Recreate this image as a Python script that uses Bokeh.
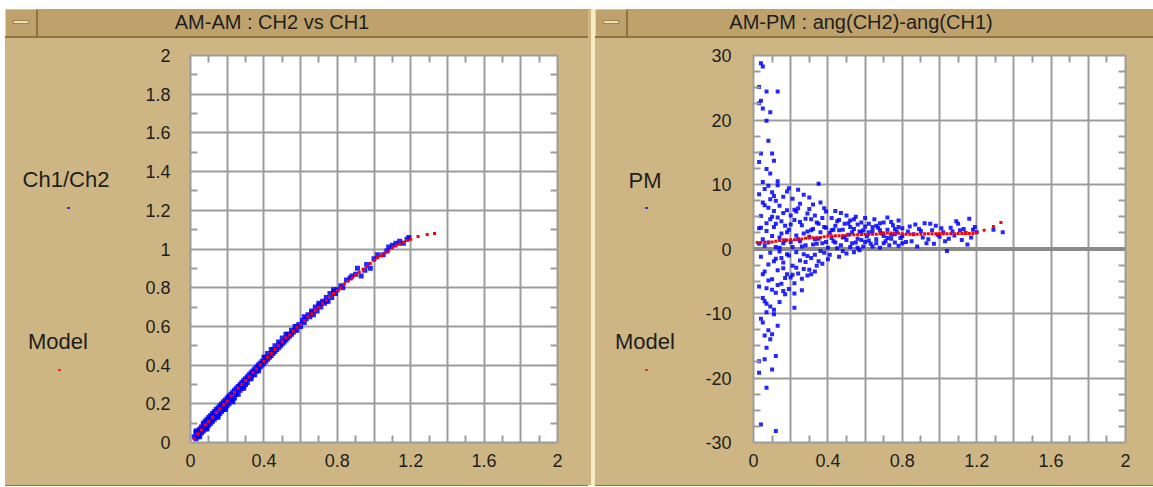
from bokeh.plotting import figure
from bokeh.models import Range1d, LinearAxis, FixedTicker, Grid, Span, Div, CustomJSTickFormatter
from bokeh.layouts import row, column
from bokeh.embed import file_html
from bokeh.resources import INLINE

# ---------------- data ----------------
x_ticks_lab = [0, 0.4, 0.8, 1.2, 1.6, 2]
x_grid = [0, 0.2, 0.4, 0.6, 0.8, 1.0, 1.2, 1.4, 1.6, 1.8, 2.0]
x_minor = [0.1, 0.3, 0.5, 0.7, 0.9, 1.1, 1.3, 1.5, 1.7, 1.9]
am_y_ticks = [0, 0.2, 0.4, 0.6, 0.8, 1, 1.2, 1.4, 1.6, 1.8, 2]
am_y_minor = [0.1, 0.3, 0.5, 0.7, 0.9, 1.1, 1.3, 1.5, 1.7, 1.9]
pm_y_ticks = [-30, -20, -10, 0, 10, 20, 30]
pm_y_minor = [-27.5, -25, -22.5, -17.5, -15, -12.5, -7.5, -5, -2.5,
              2.5, 5, 7.5, 12.5, 15, 17.5, 22.5, 25, 27.5]

# AM-AM measured points (Ch1/Ch2)
am_x_low = [0.02, 0.03, 0.03, 0.04, 0.04, 0.05, 0.05, 0.06, 0.06, 0.07, 0.07, 0.08, 0.08, 0.09, 0.09,
            0.10, 0.10, 0.11, 0.11, 0.12, 0.12, 0.13, 0.13, 0.14, 0.14, 0.15, 0.15, 0.16, 0.16, 0.17,
            0.17, 0.18, 0.18, 0.19, 0.19, 0.20, 0.20, 0.21, 0.21, 0.22, 0.22, 0.23, 0.23, 0.24, 0.24,
            0.25, 0.25, 0.26, 0.26, 0.27, 0.27, 0.28, 0.28, 0.29, 0.29, 0.30, 0.30]
am_y_low = [0.03, 0.02, 0.05, 0.03, 0.06, 0.04, 0.07, 0.05, 0.08, 0.06, 0.09, 0.07, 0.11, 0.08, 0.12,
            0.09, 0.13, 0.10, 0.14, 0.11, 0.15, 0.12, 0.16, 0.13, 0.17, 0.14, 0.18, 0.15, 0.19, 0.16,
            0.20, 0.17, 0.21, 0.18, 0.22, 0.19, 0.23, 0.20, 0.24, 0.22, 0.25, 0.22, 0.26, 0.23, 0.27,
            0.25, 0.28, 0.25, 0.29, 0.27, 0.30, 0.28, 0.31, 0.29, 0.32, 0.30, 0.33]
am_x_mid = [0.31, 0.31, 0.32, 0.32, 0.33, 0.33, 0.34, 0.34, 0.35, 0.35, 0.36, 0.36, 0.37, 0.37, 0.38,
            0.38, 0.39, 0.39, 0.40, 0.40, 0.41, 0.42, 0.42, 0.43, 0.44, 0.44, 0.45, 0.46, 0.46, 0.47,
            0.48, 0.48, 0.49, 0.50, 0.50, 0.51, 0.52, 0.52, 0.53, 0.54, 0.55, 0.55, 0.56, 0.57, 0.58,
            0.58, 0.59, 0.60, 0.61, 0.62, 0.63, 0.64, 0.65, 0.66, 0.67, 0.68, 0.69, 0.70, 0.71, 0.72,
            0.73, 0.74, 0.75, 0.76, 0.77, 0.78, 0.79, 0.80]
am_y_mid = [0.31, 0.34, 0.33, 0.35, 0.33, 0.36, 0.35, 0.37, 0.35, 0.38, 0.37, 0.39, 0.38, 0.40, 0.39,
            0.41, 0.40, 0.42, 0.41, 0.44, 0.42, 0.43, 0.46, 0.44, 0.45, 0.48, 0.46, 0.47, 0.50, 0.48,
            0.49, 0.52, 0.50, 0.51, 0.54, 0.52, 0.53, 0.56, 0.54, 0.55, 0.56, 0.58, 0.57, 0.58, 0.60,
            0.58, 0.61, 0.60, 0.63, 0.62, 0.64, 0.66, 0.65, 0.68, 0.66, 0.70, 0.68, 0.71, 0.70, 0.73,
            0.72, 0.75, 0.73, 0.77, 0.75, 0.78, 0.77, 0.79]
am_x_high = [0.82, 0.83, 0.85, 0.87, 0.88, 0.90, 0.91, 0.93, 0.95, 0.96, 0.98, 1.00, 1.02, 1.05, 1.07,
             1.08, 1.10, 1.12, 1.14, 1.16, 1.18, 1.19]
am_y_high = [0.81, 0.80, 0.84, 0.85, 0.86, 0.87, 0.90, 0.86, 0.89, 0.92, 0.90, 0.95, 0.97, 0.97, 0.99,
             1.01, 1.02, 1.03, 1.04, 1.03, 1.05, 1.06]
am_x_fuzz = [0.03, 0.05, 0.07, 0.09, 0.11, 0.13, 0.15, 0.17, 0.19, 0.21, 0.23, 0.25, 0.27, 0.29,
             0.33, 0.37, 0.41, 0.45, 0.49, 0.53, 0.57, 0.62, 0.66, 0.70, 0.74, 0.78]
am_y_fuzz = [0.06, 0.03, 0.10, 0.07, 0.12, 0.15, 0.13, 0.19, 0.17, 0.23, 0.21, 0.26, 0.29, 0.28,
             0.34, 0.37, 0.44, 0.48, 0.51, 0.56, 0.60, 0.65, 0.67, 0.72, 0.73, 0.79]

# models (shared x)
model_x = [0.02, 0.04, 0.06, 0.08, 0.10, 0.12, 0.14, 0.16, 0.18, 0.20,
           0.22, 0.24, 0.26, 0.28, 0.30, 0.32, 0.34, 0.36, 0.38, 0.40,
           0.42, 0.44, 0.46, 0.48, 0.50, 0.52, 0.54, 0.56, 0.58, 0.60,
           0.62, 0.64, 0.66, 0.68, 0.70, 0.72, 0.74, 0.76, 0.78, 0.80,
           0.82, 0.84, 0.86, 0.88, 0.90, 0.92, 0.94, 0.96, 0.98, 1.00,
           1.02, 1.04, 1.06, 1.08, 1.10, 1.12, 1.14, 1.16, 1.18, 1.20,
           1.24, 1.29, 1.33]
am_model_y = [0.02, 0.045, 0.065, 0.09, 0.11, 0.13, 0.155, 0.175, 0.195, 0.215,
              0.24, 0.26, 0.28, 0.30, 0.32, 0.34, 0.36, 0.38, 0.40, 0.42,
              0.44, 0.46, 0.48, 0.50, 0.52, 0.54, 0.555, 0.575, 0.595, 0.61,
              0.63, 0.65, 0.665, 0.685, 0.70, 0.72, 0.735, 0.755, 0.77, 0.785,
              0.80, 0.82, 0.835, 0.85, 0.865, 0.88, 0.895, 0.91, 0.925, 0.94,
              0.955, 0.965, 0.98, 0.99, 1.005, 1.015, 1.025, 1.035, 1.045, 1.05,
              1.065, 1.075, 1.08]
pm_model_y = [1.0, 1.0, 1.05, 1.05, 1.1, 1.2, 1.3, 1.4, 1.4, 1.45,
              1.45, 1.5, 1.55, 1.65, 1.7, 1.75, 1.75, 1.8, 1.9, 2.0,
              2.0, 2.05, 2.05, 2.1, 2.15, 2.2, 2.2, 2.2, 2.25, 2.25,
              2.25, 2.3, 2.3, 2.4, 2.5, 2.5, 2.5, 2.5, 2.45, 2.35,
              2.3, 2.3, 2.3, 2.3, 2.3, 2.35, 2.35, 2.35, 2.35, 2.35,
              2.35, 2.35, 2.35, 2.35, 2.4, 2.4, 2.4, 2.4, 2.4, 2.6,
              2.9, 3.5, 4.1]

# AM-PM measured points (PM)
pm_x_fan = [0.03, 0.04, 0.05, 0.03, 0.07, 0.13, 0.04, 0.05, 0.09, 0.07, 0.08, 0.04, 0.10, 0.11, 0.03,
            0.07, 0.09,
            0.05, 0.08, 0.13, 0.07, 0.11, 0.04, 0.06, 0.08, 0.05, 0.10, 0.03, 0.06, 0.10, 0.07,
            0.04, 0.12, 0.12, 0.07, 0.11, 0.22, 0.09, 0.03, 0.07, 0.13]
pm_y_fan = [25.1, 28.8, 28.3, 22.6, 24.4, 24.4, 23.0, 21.8, 21.2, 19.9, 16.8, 14.8, 14.8, 13.7, 13.5,
            12.4, 11.7,
            10.4, 9.8, 10.5, -9.8, -9.4, -10.8, -13.4, -12.6, -11.4, -13.2, -17.4, -17.1, -18.7, -21.5,
            -27.2, -28.2, -16.6, -15.3, -10.1, -9.1, -14.0, -19.2, -8.5, -11.9]
pm_x_core = [0.03, 0.05, 0.04, 0.06, 0.08, 0.03, 0.05, 0.07, 0.09, 0.10, 0.12, 0.11, 0.13, 0.14, 0.15,
             0.16, 0.17, 0.18, 0.19, 0.20,
             0.04, 0.06, 0.03, 0.05, 0.07, 0.08, 0.09, 0.10, 0.11, 0.12, 0.13, 0.14, 0.15, 0.16, 0.17,
             0.18, 0.19, 0.20,
             0.06, 0.08, 0.10, 0.12, 0.14, 0.16, 0.18, 0.11, 0.13, 0.15, 0.17, 0.19, 0.09, 0.12, 0.14,
             0.16, 0.18, 0.20]
pm_y_core = [8.5, 7.2, 5.1, 9.3, 6.4, 3.2, 1.5, 2.8, 4.6, 8.8, 7.5, 5.9, 9.9, 6.7, 4.3,
             8.1, 3.6, 6.0, 9.4, 5.2,
             -1.2, -3.5, -5.8, -7.6, -6.1, -2.4, -8.9, -4.7, -1.9, -6.8, -3.3, -8.2, -5.4, -2.1, -7.0,
             -3.9, -1.0, -4.4,
             0.5, 1.0, 2.0, 0.3, 1.8, 0.9, 2.6, 3.4, 4.9, 2.4, 1.3, 3.0, -0.6, -1.5, -0.4,
             -3.0, -0.8, 1.1]
pm_x_mid = [0.21, 0.22, 0.23, 0.24, 0.25, 0.26, 0.27, 0.28, 0.29, 0.30, 0.31, 0.32, 0.33, 0.34, 0.35,
            0.36, 0.37, 0.38, 0.39, 0.40,
            0.21, 0.22, 0.23, 0.24, 0.25, 0.26, 0.27, 0.28, 0.29, 0.30, 0.31, 0.32, 0.33, 0.34, 0.35,
            0.36, 0.37, 0.38, 0.39, 0.24, 0.35, 0.30, 0.26, 0.22,
            0.21, 0.23, 0.25, 0.27, 0.29, 0.31, 0.33, 0.35, 0.37, 0.39]
pm_y_mid = [7.8, 4.5, 2.1, 6.3, -1.8, 3.7, 8.4, 0.6, 5.5, -3.2, 2.9, 6.9, -0.9, 4.1, 1.6,
            7.2, -2.3, 3.4, 5.8, 0.2,
            -2.6, -5.3, -0.5, -3.8, 1.2, -4.6, 2.4, -2.0, -4.1, 1.9, -1.4, 3.1, -3.5, 0.8, -1.9,
            2.6, 4.8, -0.6, 1.1, 9.2, 10.1, 8.0, -6.4, -6.9,
            0.3, 5.8, 4.2, -0.8, 2.7, 4.6, 1.5, 3.9, 0.9, 3.3]
pm_x_hi = [0.41, 0.42, 0.43, 0.44, 0.45, 0.46, 0.47, 0.48, 0.49, 0.50, 0.51, 0.52, 0.53, 0.54, 0.55,
           0.56, 0.57, 0.58, 0.59, 0.60,
           0.41, 0.43, 0.45, 0.47, 0.49, 0.51, 0.53, 0.55, 0.57, 0.59, 0.42, 0.46, 0.50, 0.54, 0.58,
           0.44, 0.48, 0.52, 0.56, 0.60,
           0.61, 0.62, 0.63, 0.64, 0.65, 0.66, 0.67, 0.68, 0.69, 0.70, 0.71, 0.72, 0.73, 0.74, 0.75,
           0.76, 0.77, 0.78, 0.79, 0.80,
           0.62, 0.64, 0.66, 0.68, 0.70, 0.72, 0.74, 0.76, 0.78, 0.80]
pm_y_hi = [2.5, 4.8, 1.2, 3.6, 0.1, 2.9, 5.6, 1.8, 3.9, -0.7, 2.2, 4.4, 0.9, 3.1, 5.0,
           1.6, 2.7, 4.1, 0.4, 3.5,
           -0.9, 3.0, 4.3, 0.6, 1.9, 4.0, 2.6, 1.0, -0.2, 2.9, 1.7, -1.2, 5.2, -0.5, 1.4,
           5.9, -0.3, 0.3, 3.8, 1.1,
           2.0, 3.9, 0.8, 2.8, 4.6, 1.5, 3.3, 0.2, 2.4, 4.1, 1.2, 3.0, 0.6, 2.2, 3.7,
           1.0, 2.7, 4.4, 1.7, 3.2,
           1.3, 0.4, 3.6, 2.9, 0.9, 4.9, 1.6, 3.1, 0.5, 2.0]
pm_x_tail = [0.82, 0.84, 0.86, 0.88, 0.90, 0.92, 0.94, 0.96, 0.98, 1.00, 1.02, 1.04, 1.06, 1.08, 1.10,
             1.12, 1.14, 1.16, 1.18, 1.20, 0.87, 0.93, 0.99, 1.05, 1.11, 1.17, 1.19, 1.29, 1.34]
pm_y_tail = [1.1, 3.5, 2.3, 0.4, 2.8, 4.0, 1.5, 2.9, 3.6, 1.9, 2.6, -0.3, 3.3, 2.1, 3.9,
             1.4, 2.5, 4.7, 3.0, 2.6, 3.8, 0.9, 2.2, 1.6, 2.9, 1.8, 3.4, 3.0, 2.6]
pm_x_more = [0.06, 0.07, 0.08, 0.09, 0.10, 0.11, 0.12, 0.13, 0.14, 0.15, 0.16, 0.17, 0.18, 0.19, 0.20,
             0.21, 0.22, 0.23, 0.24, 0.25, 0.26, 0.27, 0.28, 0.29, 0.30, 0.31, 0.32, 0.33, 0.34,
             0.36, 0.38, 0.40,
             0.42, 0.44, 0.46, 0.48, 0.50, 0.52, 0.54, 0.56, 0.58, 0.60,
             0.62, 0.64, 0.66, 0.68, 0.70, 0.72, 0.74, 0.76, 0.78, 0.80,
             0.83, 0.85, 0.89, 0.91, 0.95, 0.97, 1.01, 1.03, 1.07, 1.09, 1.13, 1.15,
             0.05, 0.04, 0.06, 0.03, 0.10, 0.16]
pm_y_more = [6.8, 4.0, -4.9, 7.7, -6.3, 8.2, 3.9, -5.6, 0.2, -1.4, 5.6, -4.5, 8.9, -6.2, 3.8,
             -4.0, 6.1, -2.9, 1.5, 7.0, 0.4, -3.1, 4.7, -1.1, 6.2, -3.9, 0.7, 5.2, -2.6,
             -0.3, 6.3, -1.6,
             2.9, 1.0, 4.5, 3.0, 1.4, 3.4, 4.6, 0.2, 2.6, 4.8,
             2.6, 3.4, 0.9, 4.0, 2.0, 1.7, 4.2, 2.3, 3.4, 0.9,
             2.7, 1.2, 3.1, 1.8, 3.9, 0.8, 3.2, 1.2, 2.7, 4.3, 3.1, 0.7,
             -3.9, 3.3, -8.1, 0.8, 5.0, -6.5]

# ---------------- style ----------------
TAN = "#CDB683"
TITLE_BG = "#BFA26B"
DARK = "#8E7444"
CREAM = "#F6ECC4"
GRID = "#9C9C9C"
TEXT = "#1E1E1E"
FONT = "Liberation Sans"
BLUE = "#0000FF"
RED = "#FF0000"

TITLE_H = 29
BODY_H = 447


def title_div(width, text, center):
    html = (
        '<div style="position:absolute;left:0;top:0;width:33px;height:27px;box-sizing:border-box;'
        'border-left:1px solid #E4D5A6;border-top:1px solid #D8C594;border-right:2px solid %s;"></div>'
        '<div style="position:absolute;left:8px;top:11px;width:16px;height:4px;background:#EEDFB2;'
        'border:1px solid #9E8452;box-sizing:border-box;"></div>'
        '<div style="position:absolute;left:%dpx;width:500px;top:0;height:27px;line-height:27px;'
        'text-align:center;white-space:nowrap;">%s</div>'
    ) % (DARK, center - 250, text)
    return Div(text=html, width=width, height=TITLE_H, margin=0,
               styles={"background-color": TITLE_BG, "border-bottom": "2px solid " + DARK,
                       "box-sizing": "border-box", "position": "relative", "overflow": "hidden",
                       "font-family": FONT, "font-size": "20px", "color": TEXT})


def legend_div(width, items):
    parts = []
    for text, tx, ty, dx, dy, color in items:
        parts.append('<div style="position:absolute;left:%dpx;width:140px;top:%dpx;height:28px;'
                     'line-height:28px;text-align:center;white-space:nowrap;">%s</div>'
                     % (tx - 70, ty - 14, text))
        parts.append('<div style="position:absolute;left:%dpx;top:%dpx;width:3px;height:2px;'
                     'background:%s;opacity:0.75;"></div>' % (dx - 1, dy - 1, color))
    return Div(text="".join(parts), width=width, height=BODY_H, margin=0,
               styles={"background-color": TAN, "position": "relative", "overflow": "hidden",
                       "font-family": FONT, "font-size": "22px", "color": TEXT})


def axis(ticker_major, ticker_minor, labels, standoff):
    ax = LinearAxis(ticker=FixedTicker(ticks=ticker_major, minor_ticks=ticker_minor))
    ax.axis_line_color = None
    ax.major_tick_line_color = None
    ax.major_tick_in = 0
    ax.major_tick_out = 0
    ax.minor_tick_in = 7
    ax.minor_tick_out = 0
    ax.minor_tick_line_color = GRID
    ax.minor_tick_line_width = 2
    if labels:
        ax.formatter = CustomJSTickFormatter(code="return String(tick)")
        ax.major_label_text_font = FONT
        ax.major_label_text_font_size = "18px"
        ax.major_label_text_color = TEXT
        ax.major_label_standoff = standoff
    else:
        ax.major_label_text_font_size = "0px"
        ax.major_label_text_color = None
        ax.major_label_standoff = 0
    return ax


def make_body(width, border_left, frame_w, ylo, yhi, yticks, yminor, ystandoff):
    p = figure(width=width, height=BODY_H, x_range=Range1d(0, 2), y_range=Range1d(ylo, yhi),
               x_axis_type=None, y_axis_type=None, toolbar_location=None, output_backend="svg",
               min_border_left=border_left, min_border_right=width - border_left - frame_w,
               min_border_top=17, min_border_bottom=BODY_H - 17 - 387,
               background_fill_color="white", border_fill_color=TAN,
               outline_line_color=GRID, outline_line_width=2, margin=0)
    p.add_layout(axis(x_ticks_lab, x_minor, True, 11), "below")
    p.add_layout(axis(x_ticks_lab, x_minor, False, 0), "above")
    p.add_layout(axis(yticks, yminor, True, ystandoff), "left")
    p.add_layout(axis(yticks, yminor, False, 0), "right")
    p.add_layout(Grid(dimension=0, ticker=FixedTicker(ticks=x_grid), grid_line_color=GRID, grid_line_width=2))
    p.add_layout(Grid(dimension=1, ticker=FixedTicker(ticks=yticks), grid_line_color=GRID, grid_line_width=2))
    return p


LEFT_W = 583
RIGHT_W = 558
LEG_L = 120
LEG_R = 100
BG = {"background-color": TAN}
BG_LINE = {"background-color": TAN, "box-shadow": "0 1px 0 " + DARK}

# ---- left panel ----
tl = title_div(LEFT_W, "AM-AM : CH2 vs CH1", 267)
ll = legend_div(LEG_L, [("Ch1/Ch2", 61, 142, 63, 170, BLUE), ("Model", 53, 304, 54, 332, RED)])
bl = make_body(LEFT_W - LEG_L, 65, 367, 0, 2, am_y_ticks, am_y_minor, 20)
bl.scatter(am_x_low + am_x_mid + am_x_high + am_x_fuzz, am_y_low + am_y_mid + am_y_high + am_y_fuzz,
           marker="square", size=5, fill_color=BLUE, line_color=None, fill_alpha=0.85)
bl.scatter(model_x, am_model_y, marker="square", size=3, fill_color=RED, line_color=None)

# ---- right panel ----
tr = title_div(RIGHT_W, "AM-PM : ang(CH2)-ang(CH1)", 266)
lr = legend_div(LEG_R, [("PM", 50, 143, 51, 170, BLUE), ("Model", 50, 304, 51, 332, RED)])
br = make_body(RIGHT_W - LEG_R, 58, 372, -30, 30, pm_y_ticks, pm_y_minor, 22)
br.add_layout(Span(location=0, dimension="width", line_color="#8A8A8A", line_width=4, level="underlay"))
br.scatter(pm_x_fan + pm_x_core + pm_x_mid + pm_x_hi + pm_x_tail + pm_x_more,
           pm_y_fan + pm_y_core + pm_y_mid + pm_y_hi + pm_y_tail + pm_y_more,
           marker="square", size=4, fill_color=BLUE, line_color=None, fill_alpha=0.85)
br.scatter(model_x, pm_model_y, marker="square", size=3, fill_color=RED, line_color=None)

divider = Div(width=7, height=TITLE_H + BODY_H, margin=0,
              styles={"background": "linear-gradient(to right, %s 0px, %s 3px, %s 3px, %s 7px)"
                      % (TAN, TAN, CREAM, CREAM)})

left = column(tl, row(ll, bl, spacing=0, styles=BG_LINE), spacing=0, styles=BG)
right = column(tr, row(lr, br, spacing=0, styles=BG_LINE), spacing=0, styles=BG)
layout = row(left, divider, right, spacing=0, margin=(9, 0, 0, 5))

open("out.html", "w").write(file_html(layout, INLINE))
